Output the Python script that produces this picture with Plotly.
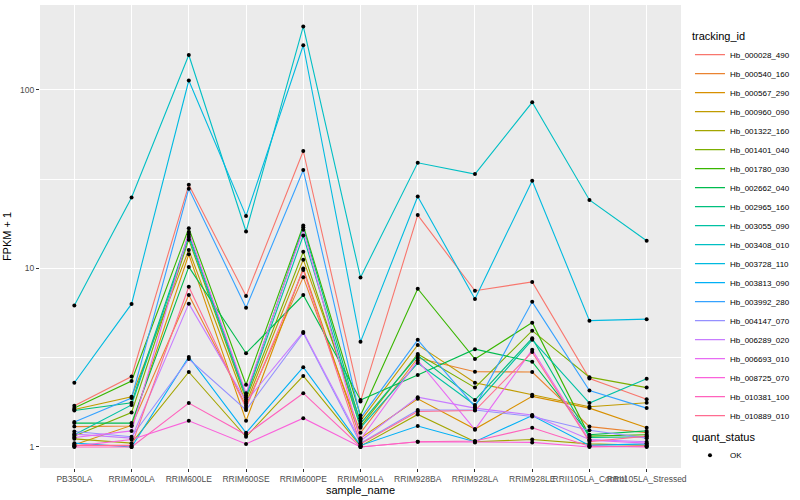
import plotly.graph_objects as go

samples = ["PB350LA", "RRIM600LA", "RRIM600LE", "RRIM600SE", "RRIM600PE", "RRIM901LA",
           "RRIM928BA", "RRIM928LA", "RRIM928LE", "RRII105LA_Control", "RRII105LA_Stressed"]

tracking_ids = ["Hb_000028_490", "Hb_000540_160", "Hb_000567_290", "Hb_000960_090",
                "Hb_001322_160", "Hb_001401_040", "Hb_001780_030", "Hb_002662_040",
                "Hb_002965_160", "Hb_003055_090", "Hb_003408_010", "Hb_003728_110",
                "Hb_003813_090", "Hb_003992_280", "Hb_004147_070", "Hb_006289_020",
                "Hb_006693_010", "Hb_008725_070", "Hb_010381_100", "Hb_010889_010"]

# FPKM + 1 values per gene, in the order of `samples`
hb_000028_490 = [1.70, 2.48, 29.4, 7.0, 45.5, 1.8, 19.9, 7.5, 8.4, 2.42, 1.85]
hb_000540_160 = [1.30, 1.31, 7.1, 1.7, 8.94, 1.2, 3.15, 2.64, 2.63, 1.3, 1.2]
hb_000567_290 = [1.03, 1.32, 12.0, 1.4, 10.0, 1.12, 1.86, 1.26, 1.92, 1.65, 1.28]
hb_000960_090 = [1.62, 1.91, 12.7, 1.75, 11.2, 1.4, 3.73, 2.29, 1.96, 1.68, 1.77]
hb_001322_160 = [1.11, 1.05, 2.63, 1.14, 2.5, 1.01, 1.52, 1.07, 1.1, 1.04, 1.02]
hb_001401_040 = [1.15, 1.56, 14.5, 1.85, 12.4, 1.3, 3.32, 2.15, 4.48, 2.46, 2.15]
hb_001780_030 = [1.65, 2.34, 16.8, 2.23, 17.4, 1.5, 7.7, 3.11, 4.97, 1.15, 1.17]
hb_002662_040 = [1.36, 1.36, 10.2, 3.35, 7.1, 1.83, 2.53, 3.53, 3.0, 1.17, 1.23]
hb_002965_160 = [1.6, 1.77, 15.5, 1.95, 17.0, 1.35, 3.25, 1.83, 4.07, 1.13, 1.14]
hb_003055_090 = [1.17, 1.72, 15.0, 1.9, 15.3, 1.28, 2.95, 1.72, 3.98, 1.76, 2.41]
hb_003408_010 = [6.2, 25.0, 157, 16.1, 227, 8.9, 39.1, 33.8, 85.3, 24.2, 14.3]
hb_003728_110 = [2.29, 6.33, 113, 19.7, 178, 3.88, 25.3, 6.75, 31.0, 5.1, 5.2]
hb_003813_090 = [1.05, 1.0, 3.19, 1.2, 2.8, 1.02, 1.31, 1.07, 1.5, 1.02, 1.04]
hb_003992_280 = [1.38, 1.88, 28.0, 6.03, 35.6, 1.45, 3.98, 1.68, 6.5, 2.07, 1.65]
hb_004147_070 = [1.22, 1.14, 3.11, 1.61, 4.35, 1.05, 1.61, 1.61, 1.48, 1.24, 1.12]
hb_006289_020 = [1.18, 1.12, 6.35, 1.8, 4.4, 1.08, 1.9, 1.65, 1.51, 1.1, 1.07]
hb_006693_010 = [1.13, 1.23, 16.0, 2.0, 16.5, 1.1, 3.05, 1.25, 3.5, 1.09, 1.05]
hb_008725_070 = [1.01, 1.10, 1.40, 1.04, 1.45, 1.0, 1.07, 1.06, 1.06, 1.0, 1.01]
hb_010381_100 = [1.0, 1.0, 1.76, 1.17, 2.0, 1.0, 1.07, 1.08, 1.28, 1.01, 1.0]
hb_010889_010 = [1.02, 1.02, 7.9, 1.65, 9.8, 1.04, 1.58, 1.6, 3.4, 1.07, 1.15]

series_values = [hb_000028_490, hb_000540_160, hb_000567_290, hb_000960_090,
                 hb_001322_160, hb_001401_040, hb_001780_030, hb_002662_040,
                 hb_002965_160, hb_003055_090, hb_003408_010, hb_003728_110,
                 hb_003813_090, hb_003992_280, hb_004147_070, hb_006289_020,
                 hb_006693_010, hb_008725_070, hb_010381_100, hb_010889_010]

colors = ["#F8766D", "#EA8331", "#D89000", "#C09B00", "#A3A500", "#7CAE00", "#39B600",
          "#00BB4E", "#00BF7D", "#00C1A3", "#00BFC4", "#00BAE0", "#00B0F6", "#35A2FF",
          "#9590FF", "#C77CFF", "#E76BF3", "#FA62DB", "#FF62BC", "#FF6C91"]

FONT = "Liberation Sans, Arial, sans-serif"

fig = go.Figure()
for tid, vals, col in zip(tracking_ids, series_values, colors):
    fig.add_trace(go.Scatter(
        x=samples, y=vals, mode="lines", name=tid,
        line=dict(color=col, width=1.1), legend="legend"))

all_x, all_y = [], []
for vals in series_values:
    all_x.extend(samples)
    all_y.extend(vals)
fig.add_trace(go.Scatter(
    x=all_x, y=all_y, mode="markers", name="OK",
    marker=dict(color="black", size=4, symbol="circle"), legend="legend2"))

fig.update_layout(
    width=800, height=500,
    margin=dict(l=40, r=117, t=5, b=32),
    paper_bgcolor="white", plot_bgcolor="#EBEBEB",
    font=dict(family=FONT, size=9, color="#4D4D4D"),
    xaxis=dict(
        type="category", categoryorder="array", categoryarray=samples,
        range=[-0.6, 10.6], tickangle=0,
        showgrid=True, gridcolor="white", gridwidth=1.1, zeroline=False, showline=False,
        ticks="outside", ticklen=3, tickcolor="#333333", tickwidth=1,
        tickfont=dict(family=FONT, size=8.5, color="#4D4D4D"),
        title=dict(text="sample_name", font=dict(family=FONT, size=11, color="black"), standoff=2),
    ),
    yaxis=dict(
        type="log", range=[-0.118, 2.476],
        tickmode="array", tickvals=[1, 10, 100], ticktext=["1", "10", "100"],
        showgrid=True, gridcolor="white", gridwidth=1.1, zeroline=False, showline=False,
        ticks="outside", ticklen=3, tickcolor="#333333", tickwidth=1,
        tickfont=dict(family=FONT, size=8.5, color="#4D4D4D"),
        minor=dict(tickmode="array", tickvals=[10 ** 0.5, 10 ** 1.5, 10 ** 2.5],
                   showgrid=True, gridcolor="white", gridwidth=0.5, ticks=""),
        title=dict(text="FPKM + 1", font=dict(family=FONT, size=11, color="black"), standoff=6),
    ),
    legend=dict(
        title=dict(text="tracking_id", font=dict(family=FONT, size=11, color="black")),
        x=1.014, xanchor="left", y=0.955, yanchor="top",
        font=dict(family=FONT, size=8, color="black"),
        itemwidth=30, tracegroupgap=0, bgcolor="rgba(0,0,0,0)",
    ),
    legend2=dict(
        title=dict(text="quant_status", font=dict(family=FONT, size=11, color="black")),
        x=1.014, xanchor="left", y=0.09, yanchor="top",
        font=dict(family=FONT, size=8, color="black"),
        itemwidth=30, bgcolor="rgba(0,0,0,0)",
    ),
    showlegend=True,
)

fig.write_html("out.html",
               config={"displayModeBar": False},
               post_script="document.body.style.margin='0';document.body.style.padding='0';")
